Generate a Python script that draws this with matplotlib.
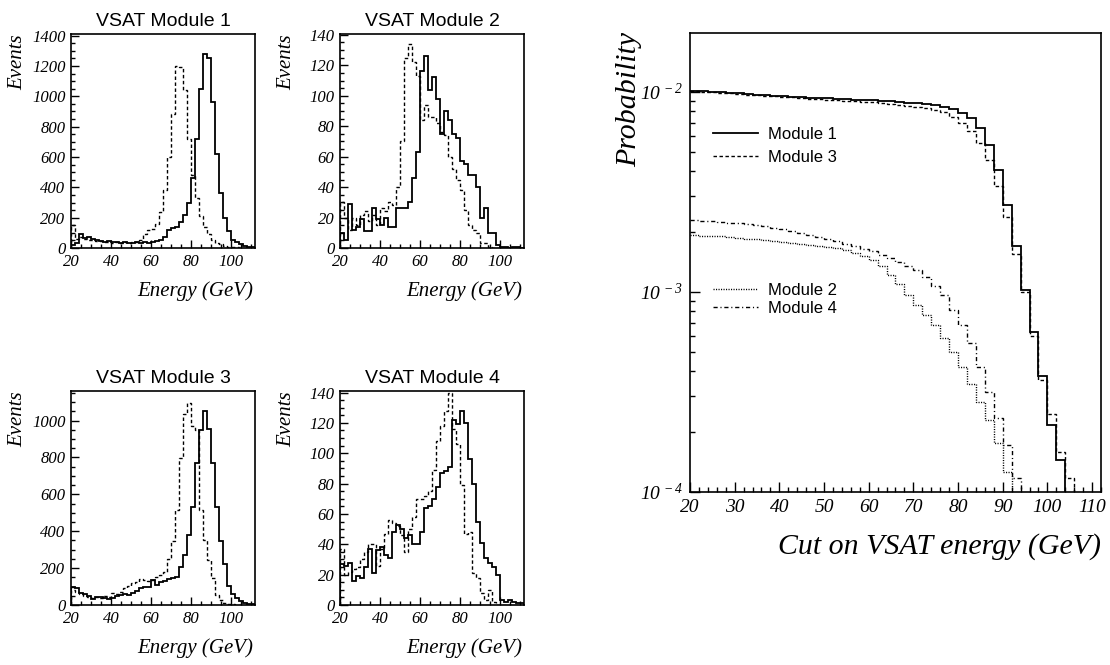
import numpy as np
import matplotlib.pyplot as plt
from matplotlib.ticker import MultipleLocator, LogLocator, NullFormatter, FuncFormatter
from matplotlib.lines import Line2D

plt.rcParams['font.family'] = ['Liberation Serif', 'DejaVu Serif']
plt.rcParams['font.style'] = 'italic'
plt.rcParams['mathtext.fontset'] = 'custom'
plt.rcParams['mathtext.rm'] = 'Liberation Serif:italic'
plt.rcParams['mathtext.it'] = 'Liberation Serif:italic'

# 2 GeV bins from 20 to 112 GeV
edges = np.arange(20, 114, 2)

# energy spectra, events per bin (solid / dashed)
m1_solid = [20, 30, 90, 65, 70, 60, 55, 45, 40, 45,
            40, 42, 35, 40, 35, 30, 40, 35, 40, 35,
            40, 45, 50, 75, 118, 130, 140, 172, 215, 300,
            460, 720, 1050, 1280, 1250, 960, 620, 360, 200, 110,
            55, 40, 25, 15, 10, 5]
m1_dashed = [150, 60, 70, 60, 55, 50, 45, 45, 40, 40,
             35, 40, 35, 40, 35, 40, 40, 50, 90, 120,
             125, 160, 240, 380, 600, 880, 1200, 1190, 1040, 720,
             480, 330, 210, 140, 90, 55, 35, 25, 15, 10,
             6, 4, 3, 2, 1, 1]

m2_solid = [10, 5, 29, 12, 14, 19, 11, 11, 26, 19,
            15, 20, 14, 14, 26, 26, 26, 30, 46, 63,
            116, 126, 104, 112, 98, 75, 90, 84, 75, 72,
            57, 55, 48, 48, 40, 20, 26, 10, 10, 2,
            1, 1, 0, 1, 1, 0]
m2_dashed = [30, 20, 12, 20, 15, 22, 24, 18, 22, 15,
             26, 24, 30, 28, 40, 70, 125, 134, 122, 113,
             84, 94, 86, 86, 82, 76, 74, 60, 52, 45,
             38, 25, 15, 12, 10, 3, 3, 1, 0, 0,
             0, 0, 0, 0, 0, 0]

m3_solid = [95, 90, 65, 60, 50, 35, 45, 45, 40, 35,
            40, 50, 55, 60, 55, 65, 75, 90, 95, 100,
            135, 110, 125, 130, 140, 145, 150, 204, 272, 380,
            534, 772, 946, 1049, 953, 769, 534, 348, 222, 105,
            60, 38, 20, 10, 8, 5]
m3_dashed = [80, 70, 60, 50, 45, 40, 45, 40, 50, 45,
             65, 60, 70, 90, 105, 120, 125, 140, 135, 130,
             135, 150, 165, 180, 250, 345, 515, 797, 1038, 1096,
             970, 950, 515, 350, 245, 146, 56, 29, 12, 6,
             4, 2, 1, 1, 0, 0]

m4_solid = [27, 26, 28, 16, 19, 18, 25, 37, 21, 36,
            38, 33, 31, 48, 53, 50, 44, 46, 40, 40,
            48, 64, 65, 70, 78, 87, 88, 91, 122, 119,
            128, 120, 96, 80, 55, 41, 31, 28, 25, 20,
            3, 2, 3, 2, 1, 1]
m4_dashed = [37, 20, 22, 24, 25, 30, 35, 40, 40, 26,
             37, 47, 56, 54, 52, 46, 35, 50, 58, 70,
             70, 72, 75, 89, 108, 118, 128, 140, 116, 106,
             79, 47, 48, 21, 18, 8, 3, 10, 2, 0,
             0, 0, 0, 0, 0, 0]

# probability above cut, in units of 1e-3
prob_m1 = [10.07, 10.05, 10.0, 9.93, 9.86, 9.80, 9.74, 9.66, 9.59, 9.53,
           9.46, 9.42, 9.38, 9.33, 9.29, 9.25, 9.20, 9.16, 9.12, 9.08,
           9.04, 9.00, 8.93, 8.87, 8.81, 8.73, 8.65, 8.55, 8.41, 8.17,
           7.80, 7.36, 6.56, 5.41, 4.06, 2.71, 1.69, 1.02, 0.632, 0.380,
           0.215, 0.145, 0.05, 0.02, 0.01, 0.005]
prob_m3 = [10.05, 10.0, 9.95, 9.88, 9.81, 9.74, 9.67, 9.60, 9.54, 9.47,
           9.41, 9.35, 9.29, 9.23, 9.17, 9.11, 9.06, 9.01, 8.96, 8.91,
           8.86, 8.79, 8.71, 8.62, 8.52, 8.41, 8.27, 8.12, 7.94, 7.50,
           6.95, 6.38, 5.52, 4.55, 3.39, 2.37, 1.55, 1.0, 0.603, 0.363,
           0.245, 0.158, 0.117, 0.05, 0.02, 0.01]
prob_m2 = [1.92, 1.91, 1.90, 1.89, 1.87, 1.86, 1.84, 1.83, 1.81, 1.80,
           1.78, 1.76, 1.74, 1.72, 1.70, 1.68, 1.66, 1.62, 1.57, 1.51,
           1.44, 1.34, 1.22, 1.09, 0.962, 0.858, 0.764, 0.681, 0.585, 0.501,
           0.421, 0.348, 0.282, 0.228, 0.176, 0.126, 0.06, 0.03, 0.02, 0.01,
           0.01, 0.005, 0.005, 0.002, 0.002, 0.001]
prob_m4 = [2.29, 2.27, 2.25, 2.23, 2.21, 2.20, 2.18, 2.15, 2.12, 2.09,
           2.05, 2.01, 1.97, 1.93, 1.88, 1.83, 1.79, 1.74, 1.69, 1.64,
           1.59, 1.53, 1.47, 1.41, 1.35, 1.28, 1.18, 1.07, 0.96, 0.81,
           0.68, 0.552, 0.42, 0.316, 0.233, 0.171, 0.117, 0.06, 0.03, 0.02,
           0.01, 0.005, 0.005, 0.002, 0.002, 0.001]

DASH = (0, (2.5, 1.8))
DOT = (0, (0.8, 1.0))
DASHDOT = (0, (3.0, 2.0, 0.8, 2.0))

fig = plt.figure(figsize=(11.1, 6.65), dpi=100)


def small_panel(rect, title, solid, dashed, ymax, ymajor, yminor):
    ax = fig.add_axes(rect)
    ax.stairs(dashed, edges, baseline=0, color='black', lw=1.0, linestyle=DASH)
    ax.stairs(solid, edges, baseline=0, color='black', lw=1.3)
    ax.set_xlim(20, 112)
    ax.set_ylim(0, ymax)
    ax.xaxis.set_major_locator(MultipleLocator(20))
    ax.xaxis.set_minor_locator(MultipleLocator(5))
    ax.yaxis.set_major_locator(MultipleLocator(ymajor))
    ax.yaxis.set_minor_locator(MultipleLocator(yminor))
    ax.tick_params(which='both', direction='in', top=False, right=False,
                   labelsize=12, pad=4, width=1.0)
    ax.tick_params(which='major', length=5.5)
    ax.tick_params(which='minor', length=3)
    for s in ax.spines.values():
        s.set_linewidth(1.2)
    ax.set_title(title, family='Liberation Sans', style='normal', fontsize=14, pad=6)
    ax.set_ylabel('Events', fontsize=15, loc='top')
    ax.yaxis.set_label_coords(-0.237, 1.0)
    ax.set_xlabel('Energy (GeV)', fontsize=15, loc='right')
    ax.xaxis.set_label_coords(0.99, -0.155)
    return ax


small_panel([0.064, 0.627, 0.1658, 0.3218], 'VSAT Module 1', m1_solid, m1_dashed, 1410, 200, 50)
small_panel([0.3063, 0.627, 0.1658, 0.3218], 'VSAT Module 2', m2_solid, m2_dashed, 140.5, 20, 5)
small_panel([0.064, 0.0902, 0.1658, 0.3218], 'VSAT Module 3', m3_solid, m3_dashed, 1160, 200, 50)
small_panel([0.3063, 0.0902, 0.1658, 0.3218], 'VSAT Module 4', m4_solid, m4_dashed, 141, 20, 5)

# cumulative probability panel
ax = fig.add_axes([0.6216, 0.2602, 0.3703, 0.690])
ax.set_yscale('log')
ax.stairs(np.array(prob_m1) * 1e-3, edges, baseline=None, color='black', lw=1.3)
ax.stairs(np.array(prob_m3) * 1e-3, edges, baseline=None, color='black', lw=1.0, linestyle=DASH)
ax.stairs(np.array(prob_m2) * 1e-3, edges, baseline=None, color='black', lw=1.0, linestyle=DOT)
ax.stairs(np.array(prob_m4) * 1e-3, edges, baseline=None, color='black', lw=1.0, linestyle=DASHDOT)
ax.set_xlim(20, 112)
ax.set_ylim(1e-4, 0.0196)
ax.xaxis.set_major_locator(MultipleLocator(10))
ax.xaxis.set_minor_locator(MultipleLocator(2))
ax.yaxis.set_major_locator(LogLocator(base=10))
ax.yaxis.set_minor_locator(LogLocator(base=10, subs=np.arange(2, 10)))
ax.yaxis.set_minor_formatter(NullFormatter())
ax.yaxis.set_major_formatter(FuncFormatter(lambda v, p: r'$10^{\,%d}$' % round(np.log10(v))))
ax.tick_params(which='both', direction='in', top=False, right=False,
               labelsize=14, pad=5, width=1.0)
ax.tick_params(which='major', length=7)
ax.tick_params(which='minor', length=3.5)
for s in ax.spines.values():
    s.set_linewidth(1.2)
ax.set_ylabel('Probability', fontsize=21.5, loc='top')
ax.yaxis.set_label_coords(-0.117, 1.003)
ax.set_xlabel('Cut on VSAT energy (GeV)', fontsize=21.5, loc='right')
ax.xaxis.set_label_coords(1.0, -0.089)

legprops = dict(family='Liberation Sans', style='normal', size=12)
h1 = Line2D([], [], color='black', lw=1.3)
h3 = Line2D([], [], color='black', lw=1.0, linestyle=DASH)
h2 = Line2D([], [], color='black', lw=1.0, linestyle=DOT)
h4 = Line2D([], [], color='black', lw=1.0, linestyle=DASHDOT)
leg1 = ax.legend([h1, h3], ['Module 1', 'Module 3'], loc='upper left',
                 bbox_to_anchor=(0.055, 0.795), frameon=False, prop=legprops,
                 handlelength=2.7, handletextpad=0.6, labelspacing=0.45,
                 borderpad=0, borderaxespad=0)
ax.add_artist(leg1)
ax.legend([h2, h4], ['Module 2', 'Module 4'], loc='upper left',
          bbox_to_anchor=(0.055, 0.455), frameon=False, prop=legprops,
          handlelength=2.7, handletextpad=0.6, labelspacing=0.15,
          borderpad=0, borderaxespad=0)

fig.savefig('out.png', dpi=100)
